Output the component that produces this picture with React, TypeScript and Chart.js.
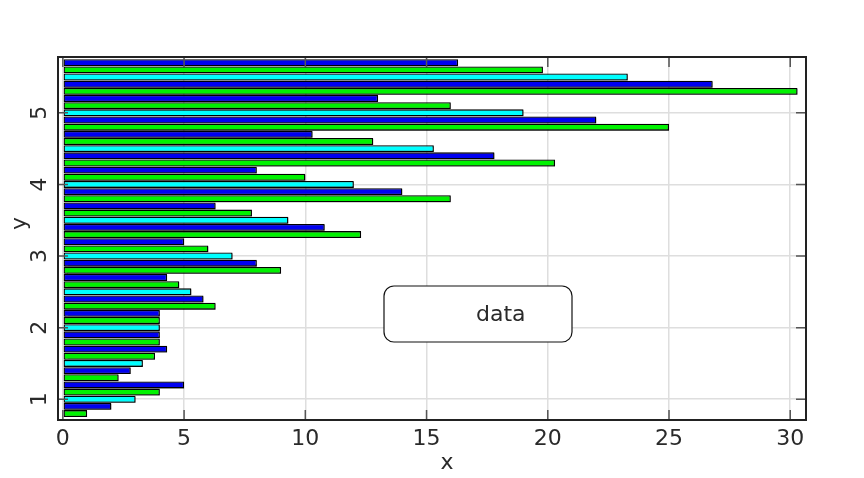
import React, { useEffect, useRef } from "react";
import { Chart, registerables } from "chart.js";

Chart.register(...registerables);

// Group centres on the y axis
const groupPositions = [1, 1.5, 2, 2.5, 3, 3.5, 4, 4.5, 5, 5.5];
// Columns, bottom bar of each group first
const series1 = [1, 2.3, 4, 6.3, 9, 12.3, 16, 20.3, 25, 30.3]; // green (bottom)
const series2 = [2, 2.8, 4, 5.8, 8, 10.8, 14, 17.8, 22, 26.8]; // blue
const series3 = [3, 3.3, 4, 5.3, 7, 9.3, 12, 15.3, 19, 23.3]; // cyan
const series4 = [4, 3.8, 4, 4.8, 6, 7.8, 10, 12.8, 16, 19.8]; // green
const series5 = [5, 4.3, 4, 4.3, 5, 6.3, 8, 10.3, 13, 16.3]; // blue (top)

const xTicks = [0, 5, 10, 15, 20, 25, 30];
const yTicks = [1, 2, 3, 4, 5];
const xTitle = "x";
const yTitle = "y";
const legendLabel = "data";

const GREEN = "#00f200";
const BLUE = "#0000f0";
const CYAN = "#00ffff";
const FONT = "'DejaVu Sans', sans-serif";
const TEXT = "#2a2a2a";
const FS = 22;

const toPoints = (vals: number[]) => vals.map((v, i) => ({ x: v, y: groupPositions[i] }));

const shadowPlugin = {
  id: "barShadow",
  beforeDatasetsDraw(chart: any) {
    const ctx = chart.ctx;
    ctx.save();
    ctx.shadowColor = "rgba(0,0,0,0.5)";
    ctx.shadowOffsetX = 1;
    ctx.shadowOffsetY = 1;
    ctx.shadowBlur = 1;
  },
  afterDatasetsDraw(chart: any) {
    chart.ctx.restore();
  },
};

const framePlugin = {
  id: "frameTicks",
  afterDraw(chart: any) {
    const { ctx, chartArea: a, scales } = chart;
    ctx.save();
    // inward tick marks on all four sides
    ctx.strokeStyle = "#555";
    ctx.lineWidth = 1.5;
    const tl = 10;
    xTicks.forEach((v) => {
      const px = scales.x.getPixelForValue(v);
      ctx.beginPath();
      ctx.moveTo(px, a.bottom);
      ctx.lineTo(px, a.bottom - tl);
      ctx.moveTo(px, a.top);
      ctx.lineTo(px, a.top + tl);
      ctx.stroke();
    });
    yTicks.forEach((v) => {
      const py = scales.y.getPixelForValue(v);
      ctx.beginPath();
      ctx.moveTo(a.left, py);
      ctx.lineTo(a.left + tl, py);
      ctx.moveTo(a.right, py);
      ctx.lineTo(a.right - tl, py);
      ctx.stroke();
    });
    // frame
    ctx.strokeStyle = "#222";
    ctx.lineWidth = 2;
    ctx.strokeRect(a.left, a.top, a.right - a.left, a.bottom - a.top);

    // axis titles
    ctx.fillStyle = TEXT;
    ctx.font = `${FS}px ${FONT}`;
    ctx.textAlign = "center";
    ctx.textBaseline = "middle";
    const midX = (a.left + a.right) / 2 + 15;
    const midY = (a.top + a.bottom) / 2 - 15;
    ctx.fillText(xTitle, midX, 463);
    ctx.save();
    ctx.translate(20, midY);
    ctx.rotate(-Math.PI / 2);
    ctx.fillText(yTitle, 0, 0);
    ctx.restore();

    // legend box
    const bx = a.left + 326;
    const by = a.top + 229;
    const bw = 188;
    const bh = 56;
    ctx.beginPath();
    ctx.roundRect(bx, by, bw, bh, 10);
    ctx.fillStyle = "#fff";
    ctx.fill();
    ctx.lineWidth = 1.2;
    ctx.strokeStyle = "#111";
    ctx.stroke();
    ctx.fillStyle = TEXT;
    ctx.textBaseline = "middle";
    ctx.textAlign = "left";
    ctx.fillText(legendLabel, bx + 92, by + bh / 2 + 1);
    ctx.restore();
  },
};

export default function App() {
  const ref = useRef<HTMLCanvasElement | null>(null);

  useEffect(() => {
    if (!ref.current) return;
    const columns = [
      { data: series5, color: BLUE },
      { data: series4, color: GREEN },
      { data: series3, color: CYAN },
      { data: series2, color: BLUE },
      { data: series1, color: GREEN },
    ];
    const chart = new Chart(ref.current, {
      type: "bar",
      data: {
        datasets: columns.map((c, i) => ({
          label: `${legendLabel} ${i}`,
          data: toPoints(c.data),
          backgroundColor: c.color,
          borderColor: "#000",
          borderWidth: 1.3,
          borderSkipped: false,
          barPercentage: 0.97,
          categoryPercentage: 1,
        })),
      },
      options: {
        indexAxis: "y",
        animation: false,
        responsive: false,
        layout: { padding: { top: 57, right: 58, left: 0, bottom: 0 } },
        plugins: { legend: { display: false }, tooltip: { enabled: false } },
        scales: {
          x: {
            type: "linear",
            min: -0.2,
            max: 30.65,
            afterBuildTicks: (s: any) => {
              s.ticks = xTicks.map((v) => ({ value: v }));
            },
            afterFit: (s: any) => {
              s.height = 58;
            },
            grid: { color: "#dedede", lineWidth: 1.5, drawTicks: false },
            border: { display: false },
            ticks: {
              color: TEXT,
              font: { family: FONT, size: FS },
              padding: 6,
              maxRotation: 0,
              callback: (v: any) => String(v),
            },
            title: { display: false },
          },
          y: {
            type: "linear",
            offset: false,
            min: 0.71,
            max: 5.78,
            afterBuildTicks: (s: any) => {
              s.ticks = yTicks.map((v) => ({ value: v }));
            },
            afterFit: (s: any) => {
              s.width = 58;
            },
            grid: { color: "#dedede", lineWidth: 1.5, drawTicks: false, offset: false },
            border: { display: false },
            ticks: {
              color: TEXT,
              font: { family: FONT, size: FS },
              padding: 11,
              minRotation: 90,
              maxRotation: 90,
              crossAlign: "center",
              callback: (v: any) => String(v),
            },
            title: { display: false },
          },
        },
      },
      plugins: [shadowPlugin, framePlugin],
    } as any);
    return () => chart.destroy();
  }, []);

  return (
    <div style={{ position: "absolute", left: 0, top: 0, width: 864, height: 478, background: "#fff" }}>
      <canvas ref={ref} width={864} height={478} style={{ width: 864, height: 478 }} />
    </div>
  );
}
